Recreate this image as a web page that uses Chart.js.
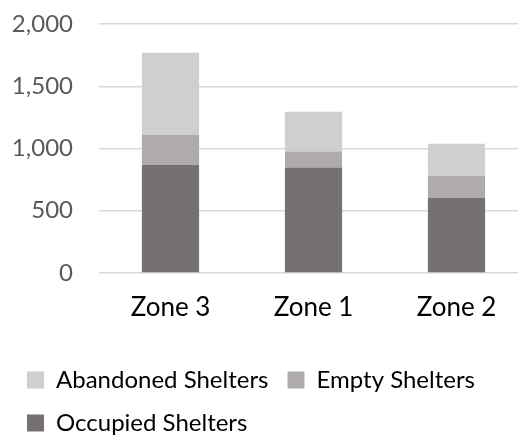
<!DOCTYPE html>
<html>
<head>
<meta charset="utf-8">
<script src="https://cdn.jsdelivr.net/npm/chart.js@4"></script>
<style>
  html, body { margin: 0; padding: 0; background: #fff; }
  #wrap { width: 518px; height: 441px; overflow: hidden; position: relative; }
  #box { width: 528px; height: 445px; position: absolute; left: 0; top: 0; }
</style>
</head>
<body>
<div id="wrap"><div id="box"><canvas id="c"></canvas></div></div>
<script>
const categories = ["Zone 3", "Zone 1", "Zone 2"];
const occupied = [870, 847, 602];
const empty = [240, 129, 180];
const abandoned = [660, 320, 256];
const yTickLabels = ["0", "500", "1,000", "1,500", "2,000"];

const FONT = "Lato, 'Open Sans', sans-serif";

new Chart(document.getElementById('c'), {
  type: 'bar',
  data: {
    labels: categories,
    datasets: [
      { label: 'Occupied Shelters', data: occupied, backgroundColor: '#767171' },
      { label: 'Empty Shelters', data: empty, backgroundColor: '#AFABAB' },
      { label: 'Abandoned Shelters', data: abandoned, backgroundColor: '#D0CECE' }
    ]
  },
  options: {
    responsive: true,
    maintainAspectRatio: false,
    animation: false,
    layout: { padding: { left: 8, top: 24, right: 0, bottom: 0 } },
    datasets: { bar: { barPercentage: 0.4, categoryPercentage: 1.0, borderWidth: 0 } },
    scales: {
      x: {
        stacked: true,
        grid: { display: false, drawTicks: false },
        border: { display: false },
        ticks: { color: '#000', font: { family: FONT, size: 26 }, padding: 19 },
        afterFit: (a) => { a.height = 76; }
      },
      y: {
        stacked: true,
        min: 0, max: 2000,
        grid: { color: '#D9D9D9', lineWidth: 1.5, drawTicks: false },
        border: { display: false },
        ticks: {
          stepSize: 500,
          color: '#595959',
          font: { family: FONT, size: 24 },
          padding: 26,
          callback: (v, i) => yTickLabels[i]
        },
        afterFit: (a) => { a.width = 91; a.paddingTop = 0; a.paddingBottom = 0; }
      }
    },
    plugins: {
      tooltip: { enabled: false },
      legend: {
        position: 'bottom',
        align: 'start',
        reverse: true,
        labels: {
          color: '#000',
          font: { family: FONT, size: 24 },
          boxWidth: 17,
          boxHeight: 17,
          padding: 19
        }
      }
    }
  }
});
</script>
</body>
</html>
